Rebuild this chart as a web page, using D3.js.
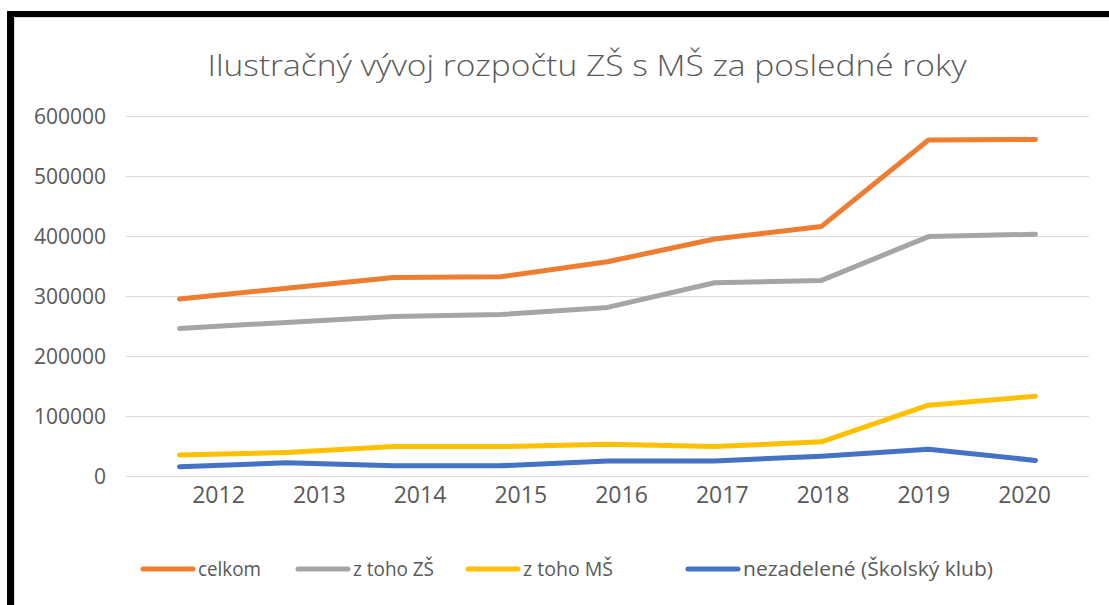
<!DOCTYPE html>
<html>
<head>
<meta charset="utf-8">
<script src="https://cdn.jsdelivr.net/npm/d3@7"></script>
<style>
  body { margin: 0; background: #fff; }
  svg text { font-family: "Open Sans", sans-serif; fill: #595959; }
</style>
</head>
<body>
<div id="app"></div>
<script>
const years = ['2012', '2013', '2014', '2015', '2016', '2017', '2018', '2019', '2020'];
const celkom = [295000, 313000, 331000, 332000, 357000, 395000, 416000, 560000, 561000];
const zsValues = [246000, 256000, 266000, 269000, 281000, 322000, 326000, 399000, 403000];
const msValues = [35000, 39000, 49000, 49000, 53000, 49000, 57000, 118000, 133000];
const klubValues = [15500, 22000, 17000, 17000, 25000, 25000, 33000, 44500, 26000];
const seriesNames = ['celkom', 'z toho ZŠ', 'z toho MŠ', 'nezadelené (Školský klub)'];
const yTicks = [0, 100000, 200000, 300000, 400000, 500000, 600000];
const title = 'Ilustračný vývoj rozpočtu ZŠ s MŠ za posledné roky';

const colors = ['#ED7D31', '#A5A5A5', '#FFC000', '#4472C4'];

const conf = {
  width: 1109,
  height: 605,
  margin: { top: 116, right: 20, bottom: 129, left: 126 },
  legendX: [143, 298, 468, 688],
  legendTextW: [63, 81, 90, 250]
}

function main() {
  const series = [celkom, zsValues, msValues, klubValues].map((vals, i) => ({
    name: seriesNames[i],
    color: colors[i],
    values: vals.map((v, j) => ({ year: years[j], value: v }))
  }));

  const svg = d3.select('#app').append('svg')
      .attr('width', conf.width)
      .attr('height', conf.height);

  // frame (black bars from the screenshot + light chart border)
  svg.append('rect').attr('x', 7).attr('y', 11).attr('width', conf.width - 7).attr('height', 6).attr('fill', '#000');
  svg.append('rect').attr('x', 7).attr('y', 11).attr('width', 7).attr('height', conf.height - 11).attr('fill', '#000');
  svg.append('rect').attr('x', 14.5).attr('y', 17.5).attr('width', conf.width).attr('height', conf.height)
      .attr('fill', 'none').attr('stroke', '#d9d9d9');

  const x0 = conf.margin.left, x1 = 1089;
  const y0 = conf.height - conf.margin.bottom, y1 = conf.margin.top;

  const x = d3.scaleBand().domain(years).range([x0, x1]);
  const xLabel = d3.scalePoint().domain(years).range([x0 + 92, x1 - 65]);
  const y = d3.scaleLinear().domain([0, 600000]).range([y0, y1]);

  // title
  const t = svg.append('text')
      .attr('x', 587)
      .attr('y', 76)
      .attr('text-anchor', 'middle')
      .style('font-size', '29px')
      .style('font-weight', 300)
      .text(title);
  if (t.node().getComputedTextLength() > 0) t.attr('textLength', 759).attr('lengthAdjust', 'spacingAndGlyphs');

  // grid + y labels
  const yAxis = svg.append('g')
      .attr('transform', `translate(${x0}, 0)`)
      .call(d3.axisLeft(y).tickValues(yTicks).tickFormat(d3.format('d')).tickSize(-(x1 - x0)).tickPadding(20))
  yAxis.select('.domain').remove();
  yAxis.selectAll('line').attr('stroke', '#d9d9d9').attr('stroke-width', 1);
  yAxis.selectAll('text').style('font-size', '21px').attr('fill', '#595959').attr('dy', '0.36em');

  // x labels
  const xAxis = svg.append('g')
      .attr('transform', `translate(0, ${y0})`)
      .call(d3.axisBottom(xLabel).tickSize(0).tickPadding(11));
  xAxis.select('.domain').remove();
  xAxis.selectAll('text').style('font-size', '23px').attr('fill', '#595959');

  const line = d3.line()
      .x(d => x(d.year) + x.bandwidth() / 2)
      .y(d => y(d.value));

  svg.append('g').selectAll('path')
      .data(series)
      .enter()
      .append('path')
      .attr('d', d => line(d.values))
      .attr('fill', 'none')
      .attr('stroke', d => d.color)
      .attr('stroke-width', 5)
      .attr('stroke-linecap', 'round')
      .attr('stroke-linejoin', 'round');

  // legend
  const legend = svg.append('g').attr('transform', 'translate(0, 569)');
  series.forEach((s, i) => {
    const item = legend.append('g').attr('transform', `translate(${conf.legendX[i]}, 0)`);
    item.append('line')
        .attr('x1', 0).attr('x2', 50)
        .attr('stroke', s.color).attr('stroke-width', 5).attr('stroke-linecap', 'round');
    item.append('text')
        .attr('x', 55).attr('dy', '0.35em')
        .style('font-size', '20px')
        .attr('textLength', conf.legendTextW[i])
        .attr('lengthAdjust', 'spacingAndGlyphs')
        .text(s.name);
  });
}

main();
</script>
</body>
</html>
